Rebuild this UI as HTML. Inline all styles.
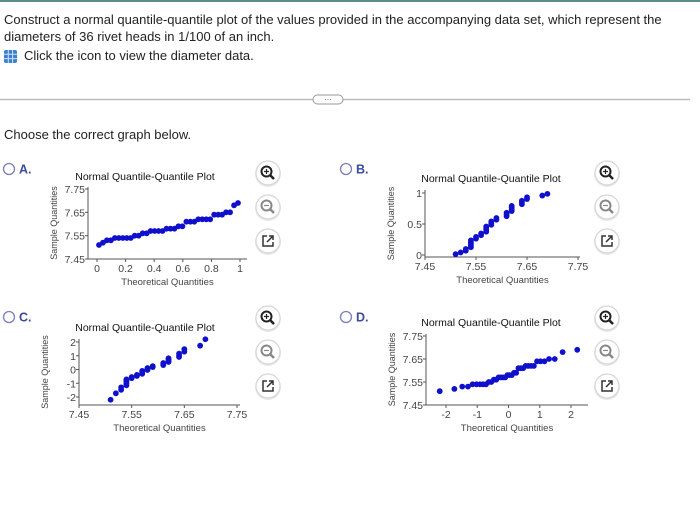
<!DOCTYPE html>
<html><head><meta charset="utf-8"><style>
body{margin:0;background:#fff;width:700px;height:511px;overflow:hidden;font-family:"Liberation Sans",Arial,sans-serif}
svg text{font-family:"Liberation Sans",Arial,sans-serif}
</style></head><body>
<svg id="page" width="700" height="511" viewBox="0 0 700 511" xmlns="http://www.w3.org/2000/svg">
<rect x="0" y="0" width="700" height="2" fill="#5e8a8a"/>
<text x="4" y="24" font-size="13" fill="#222">Construct a normal quantile-quantile plot of the values provided in the accompanying data set, which represent the</text>
<text x="4" y="41" font-size="13" fill="#222">diameters of 36 rivet heads in 1/100 of an inch.</text>
<g>
<rect x="4" y="50" width="13" height="13" rx="2" fill="#3b7fd0"/>
<path d="M4 54.3H17M4 58.6H17M8.3 50V63M12.6 50V63" stroke="#cfe3f7" stroke-width="1"/>
</g>
<text x="24" y="60" font-size="13" fill="#222">Click the icon to view the diameter data.</text>
<line x1="0" y1="99.5" x2="690" y2="99.5" stroke="#bbb" stroke-width="1.5"/>
<rect x="313" y="95" width="30" height="9" rx="4.5" fill="#fff" stroke="#999"/>
<text x="328" y="102" font-size="8" text-anchor="middle" fill="#555">···</text>
<text x="4" y="139" font-size="13" fill="#222">Choose the correct graph below.</text>
<g id="charts"></g>
</svg>
<script>
const values=[7.51,7.52,7.53,7.53,7.54,7.54,7.54,7.54,7.54,7.55,7.55,7.56,7.56,7.57,7.57,7.57,7.57,7.58,7.58,7.58,7.59,7.59,7.61,7.61,7.61,7.62,7.62,7.62,7.62,7.64,7.64,7.64,7.65,7.65,7.68,7.69];
const optionLabels=["A.","B.","C.","D."];
const sampleTicks=["7.45","7.55","7.65","7.75"];
const probTicksA=["0","0.2","0.4","0.6","0.8","1"];
const probTicksB=["0","0.5","1"];
const zTicksC=["2","1","0","-1","-2"];
const zTicksD=["-2","-1","0","1","2"];

const NS="http://www.w3.org/2000/svg";
const root=document.getElementById('charts');
function el(tag,attrs,parent){const e=document.createElementNS(NS,tag);for(const k in attrs)e.setAttribute(k,attrs[k]);(parent||root).appendChild(e);return e;}
function txt(x,y,s,size,fill,anchor,parent){const t=el('text',{x:x,y:y,'font-size':size,fill:fill,'text-anchor':anchor||'start'},parent);t.textContent=s;return t;}
function invNorm(p){const a=[-39.69683028665376,220.9460984245205,-275.9285104469687,138.357751867269,-30.66479806614716,2.506628277459239],b=[-54.47609879822406,161.5858368580409,-155.6989798598866,66.80131188771972,-13.28068155288572],c=[-0.007784894002430293,-0.3223964580411365,-2.400758277161838,-2.549732539343734,4.374664141464968,2.938163982698783],d=[0.007784695709041462,0.3224671290700398,2.445134137142996,3.754408661907416];
let q,r;if(p<0.02425){q=Math.sqrt(-2*Math.log(p));return(((((c[0]*q+c[1])*q+c[2])*q+c[3])*q+c[4])*q+c[5])/((((d[0]*q+d[1])*q+d[2])*q+d[3])*q+1);}
if(p>1-0.02425){q=Math.sqrt(-2*Math.log(1-p));return-(((((c[0]*q+c[1])*q+c[2])*q+c[3])*q+c[4])*q+c[5])/((((d[0]*q+d[1])*q+d[2])*q+d[3])*q+1);}
q=p-0.5;r=q*q;return(((((a[0]*r+a[1])*r+a[2])*r+a[3])*r+a[4])*r+a[5])*q/(((((b[0]*r+b[1])*r+b[2])*r+b[3])*r+b[4])*r+1);}
const n=values.length;
const probs=values.map((v,i)=>(i+0.5)/n);
const zs=probs.map(invNorm);

function icons(x,y0,key){
  const gap=[0,34,68];
  ['zoom-in','zoom-out','pop-out'].forEach((nm,i)=>{
    const g=el('g',{});
    
    
    const cy=y0+gap[i];
    el('circle',{cx:x,cy:cy+1,r:13,fill:'#e8e8e8'},g);
    el('circle',{cx:x,cy:cy,r:12,fill:'#fff',stroke:'#d6d6d6','stroke-width':1.2},g);
    if(i<2){const col=i==0?'#222':'#888';
      el('circle',{cx:x-1.5,cy:cy-1.5,r:5,fill:'none',stroke:col,'stroke-width':2},g);
      el('line',{x1:x+2,y1:cy+2,x2:x+6,y2:cy+6,stroke:col,'stroke-width':2.5},g);
      el('line',{x1:x-4,y1:cy-1.5,x2:x+1,y2:cy-1.5,stroke:col,'stroke-width':1.2},g);
      if(i==0)el('line',{x1:x-1.5,y1:cy-4,x2:x-1.5,y2:cy+1,stroke:col,'stroke-width':1.2},g);
    }else{
      el('path',{d:`M${x-1} ${cy-5}H${x-5}V${cy+5}H${x+5}V${cy+1}M${x-1} ${cy+1}L${x+5} ${cy-5}M${x+1} ${cy-5}H${x+5}V${cy-1}`,fill:'none',stroke:'#333','stroke-width':1.5},g);
    }
  });
}
function option(ox,oy,label,key){
  const g=el('g',{});
  
  
  el('circle',{cx:ox+6,cy:oy,r:5.5,fill:'#fff',stroke:'#7a7fb8','stroke-width':1.3},g);
  txt(ox+16,oy+4.5,label,12.5,'#3b4a9c','start',g).setAttribute('font-weight','bold');
}
function chart(cfg){
  const g=el('g',{});
  
  
  const t=txt(cfg.titleX,cfg.titleY,'Normal Quantile-Quantile Plot',10.5,'#111','middle',g);
  
  const sx=v=>cfg.x0+(v-cfg.xmin)/(cfg.xmax-cfg.xmin)*(cfg.x1-cfg.x0);
  const sy=v=>cfg.y0+(v-cfg.ymin)/(cfg.ymax-cfg.ymin)*(cfg.y1-cfg.y0);
  el('line',{x1:cfg.ax,y1:cfg.yTop,x2:cfg.ax,y2:cfg.axY,stroke:'#555','stroke-width':1},g);
  el('line',{x1:cfg.ax,y1:cfg.axY,x2:cfg.xEnd,y2:cfg.axY,stroke:'#555','stroke-width':1},g);
  cfg.xt.forEach(s=>{const v=parseFloat(s),x=sx(v);el('line',{x1:x,y1:cfg.axY,x2:x,y2:cfg.axY+3,stroke:'#555'},g);txt(x,cfg.axY+13,s,10.5,'#444','middle',g);});
  cfg.yt.forEach(s=>{const v=parseFloat(s),y=sy(v);el('line',{x1:cfg.ax-3,y1:y,x2:cfg.ax,y2:y,stroke:'#555'},g);txt(cfg.ax-3,y+4,s,10.5,'#444','end',g);});
  const xl=txt((cfg.ax+cfg.xEnd)/2,cfg.axY+26,'Theoretical Quantities',9.5,'#444','middle',g);
  
  const yc=(cfg.yTop+cfg.axY)/2;
  const yl=txt(cfg.ax-31,yc,'Sample Quantities',9,'#444','middle',g);
  yl.setAttribute('transform',`rotate(-90 ${cfg.ax-31} ${yc})`);
  
  cfg.xs.forEach((xv,i)=>{
    const c=el('circle',{cx:sx(xv),cy:sy(cfg.ys[i]),r:2.9,fill:'#1010cc'},g);
    
    
  });
}
option(3,169,optionLabels[0],'option-a');
option(340,169,optionLabels[1],'option-b');
option(3,317,optionLabels[2],'option-c');
option(340,317,optionLabels[3],'option-d');
chart({key:'a',titleX:145,titleY:180,ax:88,axY:259,yTop:187,xEnd:247,xs:probs,ys:values,xmin:0,xmax:1,x0:97,x1:240,ymin:7.45,ymax:7.75,y0:259,y1:189,xt:probTicksA,yt:sampleTicks});
chart({key:'b',titleX:491,titleY:182,ax:425,axY:257,yTop:190,xEnd:580,xs:values,ys:probs,xmin:7.45,xmax:7.75,x0:425,x1:578,ymin:0,ymax:1,y0:255,y1:193,xt:sampleTicks,yt:probTicksB});
chart({key:'c',titleX:145,titleY:331,ax:79,axY:405,yTop:339,xEnd:240,xs:values,ys:zs,xmin:7.45,xmax:7.75,x0:79,x1:237,ymin:-2,ymax:2,y0:397,y1:342,xt:sampleTicks,yt:zTicksC});
chart({key:'d',titleX:491,titleY:326,ax:426,axY:405,yTop:334,xEnd:588,xs:zs,ys:values,xmin:-2,xmax:2,x0:446,x1:571,ymin:7.45,ymax:7.75,y0:405,y1:336,xt:zTicksD,yt:sampleTicks});
icons(268,173,'option-a');icons(607,173,'option-b');icons(268,318,'option-c');icons(607,318,'option-d');
</script>
</body></html>
